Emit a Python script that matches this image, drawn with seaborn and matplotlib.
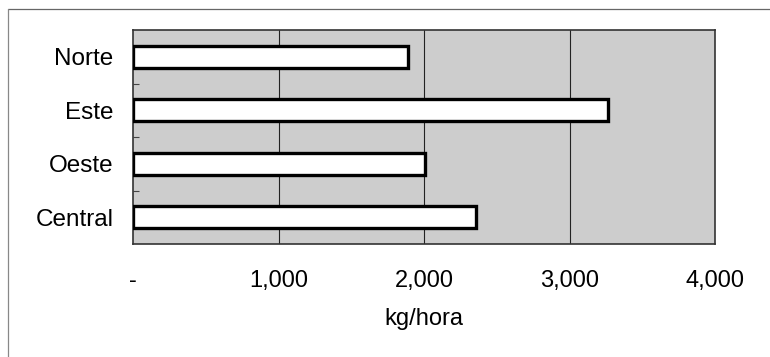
import matplotlib
matplotlib.use("Agg")
import matplotlib.pyplot as plt
import seaborn as sns
import pandas as pd
from matplotlib.lines import Line2D
from matplotlib.ticker import FixedLocator

regions = ["Norte", "Este", "Oeste", "Central"]
kg_hora = [1890, 3265, 2010, 2355]
xticks = [0, 1000, 2000, 3000, 4000]
xtick_labels = ["-", "1,000", "2,000", "3,000", "4,000"]
x_label = "kg/hora"

sns.set_theme(style="white")
plt.rcParams["font.family"] = ["Liberation Sans", "DejaVu Sans"]
plt.rcParams["text.color"] = "black"
plt.rcParams["xtick.color"] = "black"
plt.rcParams["ytick.color"] = "black"
plt.rcParams["axes.labelcolor"] = "black"

df = pd.DataFrame({"region": regions, "value": kg_hora})

fig = plt.figure(figsize=(7.7, 3.57), dpi=100)
ax = fig.add_axes([133 / 770, 1 - 244 / 357, (715 - 133) / 770, (244 - 30) / 357])
ax.set_facecolor("#cdcdcd")

sns.barplot(data=df, x="value", y="region", orient="h", ax=ax,
            color="white", edgecolor="black", linewidth=2.4, width=0.42,
            zorder=3)

ax.set_xlim(0, 4000)
ax.set_ylim(3.5, -0.5)
for v in xticks[1:-1]:
    ax.axvline(v, color="#222222", lw=0.8, zorder=1)

ax.set_xticks(xticks)
ax.set_xticklabels(xtick_labels, fontsize=17)
ax.tick_params(axis="x", length=0, pad=19)
ax.tick_params(axis="y", length=0, pad=14, labelsize=17.5)
ax.yaxis.set_minor_locator(FixedLocator([0.5, 1.5, 2.5]))
ax.tick_params(axis="y", which="minor", direction="in", length=4, width=0.8,
               color="#444444", left=True)
ax.set_xlabel(x_label, fontsize=17, labelpad=11)
ax.set_ylabel("")

for s in ax.spines.values():
    s.set_visible(True)
    s.set_color("#333333")
    s.set_linewidth(1.2)

# outer frame lines (top and left)
fig.add_artist(Line2D([8 / 770, 1.0], [1 - 9 / 357, 1 - 9 / 357],
                      transform=fig.transFigure, color="#666666", lw=0.9))
fig.add_artist(Line2D([8 / 770, 8 / 770], [0.0, 1 - 9 / 357],
                      transform=fig.transFigure, color="#888888", lw=0.9))

fig.savefig("out.png", dpi=100)
